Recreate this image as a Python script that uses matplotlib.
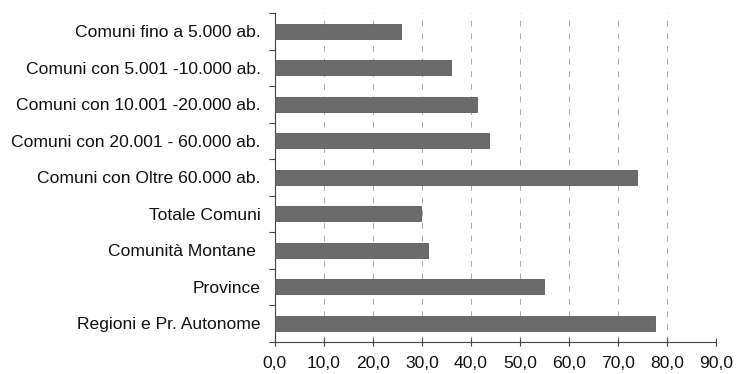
import matplotlib.pyplot as plt
import numpy as np
from matplotlib.ticker import FixedLocator, FuncFormatter

plt.rcParams['font.family'] = ['Liberation Sans', 'DejaVu Sans']

categories = [
    'Comuni fino a 5.000 ab.',
    'Comuni con 5.001 -10.000 ab.',
    'Comuni con 10.001 -20.000 ab.',
    'Comuni con 20.001 - 60.000 ab.',
    'Comuni con Oltre 60.000 ab.',
    'Totale Comuni',
    'Comunità Montane ',
    'Province',
    'Regioni e Pr. Autonome',
]
values = [25.8, 35.9, 41.2, 43.6, 73.8, 29.9, 31.2, 54.9, 77.4]
xticks = [0, 10, 20, 30, 40, 50, 60, 70, 80, 90]

fig = plt.figure(figsize=(7.36, 3.74), dpi=100)
ax = fig.add_axes([0.3732, 0.0864, 0.6001, 0.8788])

y = np.arange(len(categories))
ax.barh(y, values, height=0.41, color='#6b6b6b', edgecolor='#5a5a5a', linewidth=0.6, zorder=3)

ax.set_xlim(0, 90)
ax.set_ylim(len(categories) - 0.5, -0.5)
ax.set_yticks(y)
ax.set_yticklabels(categories, fontsize=12.6, color='#111111')
ax.yaxis.set_minor_locator(FixedLocator(np.arange(-0.5, len(categories), 1.0)))
ax.tick_params(axis='y', which='major', length=0, pad=10)
ax.tick_params(axis='y', which='minor', length=4, width=0.8, direction='out', color='#444444')

ax.set_xticks(xticks)
ax.xaxis.set_major_formatter(FuncFormatter(lambda v, p: f'{v:.1f}'.replace('.', ',')))
ax.tick_params(axis='x', length=6, width=0.8, direction='inout', pad=7, labelsize=12.6,
               labelcolor='#111111', color='#444444')

ax.grid(axis='x', linestyle=(0, (6, 7)), color='#aaaaaa', linewidth=0.7, zorder=0)
for s in ['top', 'right']:
    ax.spines[s].set_visible(False)
for s in ['left', 'bottom']:
    ax.spines[s].set_color('#444444')
    ax.spines[s].set_linewidth(0.8)

fig.savefig('out.png', dpi=100)
